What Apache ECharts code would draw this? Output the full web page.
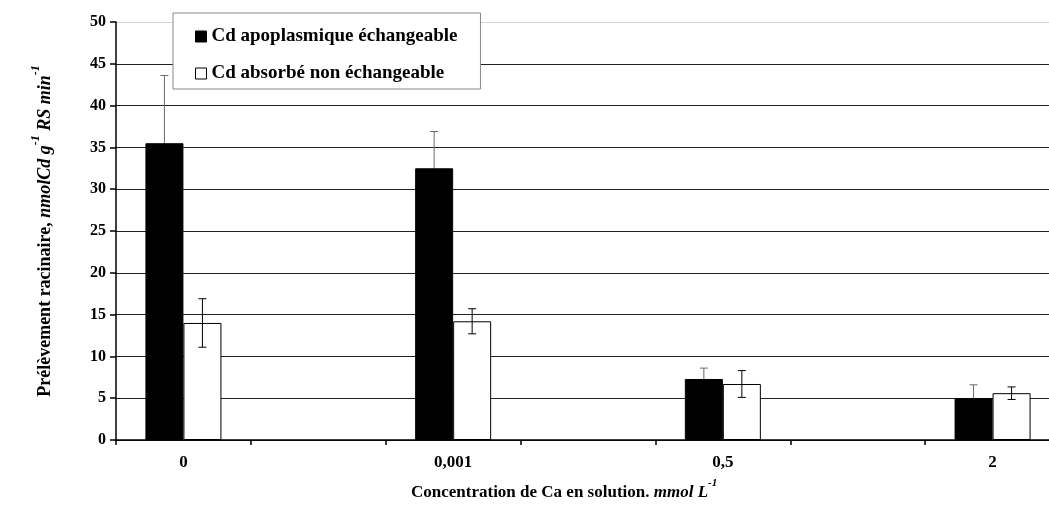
<!DOCTYPE html>
<html>
<head>
<meta charset="utf-8">
<script src="https://cdn.jsdelivr.net/npm/echarts@6/dist/echarts.min.js"></script>
<style>html,body{margin:0;padding:0;background:#fff;overflow:hidden;}#c{width:1080px;height:506px;}</style>
</head>
<body>
<div id="c"></div>
<script>
// ---- data ----
var categories = ['0', '0,001', '0,5', '2'];
var apoplasmique = [35.5, 32.5, 7.3, 5.0];
var apoplasmiqueErr = [8.1, 4.4, 1.3, 1.6];
var absorbe = [14.0, 14.2, 6.7, 5.6];
var absorbeErr = [2.9, 1.5, 1.6, 0.75];
var yTicks = [0, 5, 10, 15, 20, 25, 30, 35, 40, 45, 50];
var seriesNames = ['Cd apoplasmique échangeable', 'Cd absorbé non échangeable'];

// ---- layout ----
var FONT = '"Liberation Serif", "Times New Roman", serif';
var BAR_W = 38;

// axis slots: each category followed by an empty slot
var slots = [];
var slotIndex = [];
categories.forEach(function (c, i) {
  slotIndex.push(slots.length);
  slots.push(c);
  if (i < categories.length - 1) slots.push('');
});
function toSlots(arr) {
  var out = slots.map(function () { return null; });
  arr.forEach(function (v, i) { out[slotIndex[i]] = v; });
  return out;
}
function errData(vals, errs) {
  return vals.map(function (v, i) { return [slotIndex[i], v, errs[i]]; });
}
function errRender(offset, color) {
  return function (params, api) {
    var x = api.value(0), v = api.value(1), e = api.value(2);
    var top = api.coord([x, v + e]);
    var bot = api.coord([x, v - e]);
    var cx = top[0] + offset;
    var cap = 4;
    var style = { stroke: color, lineWidth: 1 };
    return {
      type: 'group',
      children: [
        { type: 'line', shape: { x1: cx, y1: top[1], x2: cx, y2: bot[1] }, style: style },
        { type: 'line', shape: { x1: cx - cap, y1: top[1], x2: cx + cap, y2: top[1] }, style: style },
        { type: 'line', shape: { x1: cx - cap, y1: bot[1], x2: cx + cap, y2: bot[1] }, style: style }
      ]
    };
  };
}
function titleRich(size, supSize) {
  return {
    n: { fontFamily: FONT, fontWeight: 'bold', fontSize: size, color: '#000', lineHeight: size + 6, verticalAlign: 'bottom' },
    i: { fontFamily: FONT, fontWeight: 'bold', fontStyle: 'italic', fontSize: size, color: '#000', lineHeight: size + 6, verticalAlign: 'bottom' },
    s: { fontFamily: FONT, fontWeight: 'bold', fontStyle: 'italic', fontSize: supSize, color: '#000', lineHeight: size + 6, verticalAlign: 'top' }
  };
}

var gridColors = yTicks.map(function (t, i) { return i === yTicks.length - 1 ? '#d4d4d4' : '#222'; });

var chart = echarts.init(document.getElementById('c'), null, { renderer: 'canvas' });
chart.setOption({
  backgroundColor: '#fff',
  animation: false,
  textStyle: { fontFamily: FONT },
  grid: { left: 116, top: 22, width: 944, height: 418, containLabel: false },
  title: {
    left: 406, top: 473,
    text: '{n|Concentration de Ca en solution. }{i|mmol L}{s|-1}',
    textStyle: { rich: titleRich(17, 11) }
  },
  legend: {
    orient: 'vertical',
    left: 173, top: 13,
    padding: [14, 23, 6, 22],
    itemGap: 18,
    itemWidth: 11, itemHeight: 11,
    backgroundColor: '#fff',
    borderColor: '#888', borderWidth: 1,
    icon: 'rect',
    textStyle: { fontFamily: FONT, fontWeight: 'bold', fontSize: 19, color: '#000' },
    data: [
      { name: seriesNames[0], itemStyle: { color: '#000', borderColor: '#000', borderWidth: 1 } },
      { name: seriesNames[1], itemStyle: { color: '#fff', borderColor: '#000', borderWidth: 1 } }
    ]
  },
  xAxis: {
    type: 'category',
    data: slots,
    axisLine: { lineStyle: { color: '#000', width: 1.5 } },
    axisTick: { show: true, alignWithLabel: false, length: 5, lineStyle: { color: '#000', width: 1.5 } },
    axisLabel: { color: '#000', fontFamily: FONT, fontWeight: 'bold', fontSize: 17, margin: 14, interval: 0 },
    splitLine: { show: false }
  },
  yAxis: {
    type: 'value',
    min: 0, max: 50, interval: 5,
    name: '{n|Prélèvement racinaire, }{i|nmolCd g}{s|-1}{i| RS min}{s|-1}',
    nameLocation: 'middle',
    nameRotate: 90,
    nameGap: 62,
    nameTextStyle: { rich: titleRich(18, 12) },
    axisLine: { show: true, lineStyle: { color: '#000', width: 1.5 } },
    axisTick: { show: true, inside: false, length: 6, lineStyle: { color: '#000', width: 1.5 } },
    axisLabel: { color: '#000', fontFamily: FONT, fontWeight: 'bold', fontSize: 16, margin: 10 },
    splitLine: { show: true, lineStyle: { color: gridColors, width: 1 } }
  },
  series: [
    {
      name: seriesNames[0], type: 'bar', data: toSlots(apoplasmique),
      barWidth: BAR_W, barGap: '0%', z: 3,
      itemStyle: { color: '#000', borderColor: '#000', borderWidth: 1 }
    },
    {
      name: seriesNames[1], type: 'bar', data: toSlots(absorbe),
      barWidth: BAR_W, barGap: '0%', z: 3,
      itemStyle: { color: '#fff', borderColor: '#000', borderWidth: 1 }
    },
    {
      name: 'errA', type: 'custom', z: 2, silent: true,
      renderItem: errRender(-BAR_W / 2, '#6a6a6a'),
      data: errData(apoplasmique, apoplasmiqueErr)
    },
    {
      name: 'errB', type: 'custom', z: 4, silent: true,
      renderItem: errRender(BAR_W / 2, '#000'),
      data: errData(absorbe, absorbeErr)
    }
  ]
});
</script>
</body>
</html>
